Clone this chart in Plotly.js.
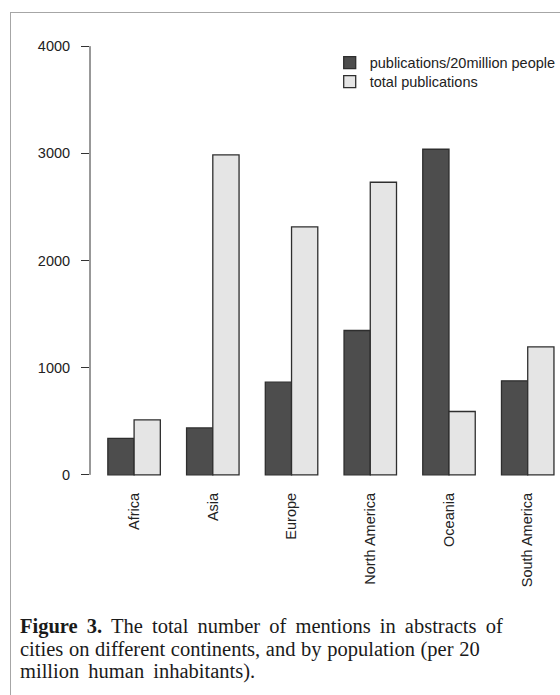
<!DOCTYPE html>
<html>
<head>
<meta charset="utf-8">
<script src="https://cdn.plot.ly/plotly-3.0.1.min.js"></script>
<style>
  html, body { margin: 0; padding: 0; background: #fff; }
  #wrap { position: relative; width: 560px; height: 695px; overflow: hidden; background: #fff; }
  #chart { position: absolute; left: 0; top: 0; width: 560px; height: 695px; }
  #frame { position: absolute; left: 10px; top: 12px; width: 600px; height: 700px;
           border-top: 1px solid #a6a6a6; border-left: 1px solid #a6a6a6; pointer-events: none; }
  #caption { position: absolute; left: 20px; top: 615px; width: 535px;
             font-family: "Liberation Serif", "DejaVu Serif", serif; font-size: 20.5px;
             line-height: 22.5px; color: #1a1a1a; white-space: nowrap; }
  #caption .l1 { word-spacing: 4px; }
  #caption .l2 { word-spacing: 0.5px; }
  #caption .l3 { word-spacing: 4px; }
</style>
</head>
<body>
<div id="wrap">
  <div id="chart"></div>
  <div id="frame"></div>
  <div id="caption"><span class="l1"><b>Figure 3.</b> The total number of mentions in abstracts of</span><br><span class="l2">cities on different continents, and by population (per 20</span><br><span class="l3">million human inhabitants).</span></div>
</div>
<script>
const continents = ["Africa", "Asia", "Europe", "North America", "Oceania", "South America"];
const perPopulation = [340, 438, 865, 1347, 3038, 877];
const totalPublications = [513, 2985, 2313, 2730, 591, 1194];
const seriesNames = ["publications/20million people", "total publications"];
const yTicks = [0, 1000, 2000, 3000, 4000];

const data = [
  { type: "bar", name: seriesNames[0], x: continents, y: perPopulation, legend: "legend",
    marker: { color: "#4d4d4d", line: { color: "#2e2e2e", width: 1.3 } } },
  { type: "bar", name: seriesNames[1], x: continents, y: totalPublications, legend: "legend2",
    marker: { color: "#e5e5e5", line: { color: "#2e2e2e", width: 1.3 } } }
];

const legendStyle = { xanchor: "left", yanchor: "top", bgcolor: "rgba(0,0,0,0)",
                      font: { size: 14.5, color: "#222" } };

const layout = {
  width: 560, height: 695,
  margin: { l: 90, r: 0, t: 29, b: 203, pad: 0, autoexpand: false },
  paper_bgcolor: "rgba(0,0,0,0)", plot_bgcolor: "rgba(0,0,0,0)",
  font: { family: "Liberation Sans, Arial, sans-serif", size: 14.5, color: "#222" },
  barmode: "group", bargap: 1/3, bargroupgap: 0,
  showlegend: true,
  legend: Object.assign({ x: 0.51, y: 0.9618 }, legendStyle),
  legend2: Object.assign({ x: 0.51, y: 0.9207 }, legendStyle),
  xaxis: { type: "category", range: [-0.56, 5.41], showline: false, showgrid: false,
           zeroline: false, ticks: "", tickangle: -90, ticklabelstandoff: -3,
           tickfont: { size: 14.5, color: "#222" } },
  yaxis: { range: [-160, 4160], tickvals: yTicks, ticktext: yTicks.map(String),
           showline: false, showgrid: false, zeroline: false,
           ticks: "outside", ticklen: 8, tickwidth: 1, tickcolor: "#333",
           ticklabelstandoff: 8, tickfont: { size: 14.5, color: "#222" } },
  shapes: [
    { type: "line", xref: "paper", yref: "y", x0: 0, x1: 0, y0: yTicks[0], y1: yTicks[yTicks.length - 1],
      line: { color: "#333", width: 1 } }
  ]
};

Plotly.newPlot("chart", data, layout, { displayModeBar: false, staticPlot: true });
</script>
</body>
</html>
